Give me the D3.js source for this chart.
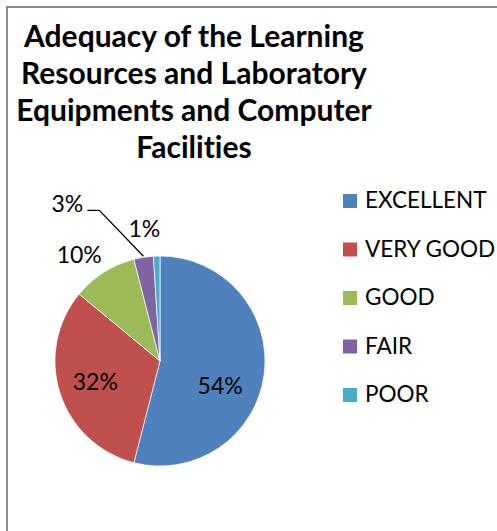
<!DOCTYPE html>
<html>
<head>
<meta charset="utf-8">
<script src="https://cdn.jsdelivr.net/npm/d3@7"></script>
<style>
  body { margin: 0; background: white; }
  text { font-family: Lato, "Open Sans", sans-serif; fill: black; font-variant-ligatures: none; }
</style>
</head>
<body>
<div id="chartDiv"></div>
<script>
var categories = ["EXCELLENT", "VERY GOOD", "GOOD", "FAIR", "POOR"];
var values = [54, 32, 10, 3, 1];
var labels = ["54%", "32%", "10%", "3%", "1%"];
var titleLines = ["Adequacy of the Learning", "Resources and Laboratory", "Equipments and Computer", "Facilities"];
var colors = ["#4f81bd", "#c0504d", "#9bbb59", "#8064a2", "#4bacc6"];

var chart = {}
chart.width = 497;
chart.height = 531;
chart.cx = 160;
chart.cy = 361;
chart.radius = 105;

var svg = d3.select("#chartDiv")
  .append("svg")
  .attr("width", chart.width)
  .attr("height", chart.height)

svg.append("rect")
  .attr("x", 7)
  .attr("y", 7)
  .attr("width", 700)
  .attr("height", 700)
  .attr("fill", "white")
  .attr("stroke", "#8c8c8c")
  .attr("stroke-width", 2)

svg.append("g")
  .selectAll("text")
  .data(titleLines)
  .enter()
  .append("text")
  .attr("x", 194)
  .attr("y", (d, i) => 47 + i * 37)
  .attr("text-anchor", "middle")
  .attr("font-size", 30)
  .attr("font-weight", "bold")
  .text(d => d)

var color = d3.scaleOrdinal().domain(categories).range(colors);

var pie = d3.pie().sort(null).value(d => d.value);
var arcs = pie(categories.map((c, i) => ({name: c, value: values[i], label: labels[i]})));
var arc = d3.arc().innerRadius(0).outerRadius(chart.radius);

var pieG = svg.append("g")
  .attr("transform", "translate(" + chart.cx + "," + chart.cy + ")")

pieG.selectAll("path")
  .data(arcs)
  .enter()
  .append("path")
  .attr("d", arc)
  .attr("fill", d => color(d.data.name))
  .attr("stroke", "white")
  .attr("stroke-width", 0.7)

function polar(angle, r){
  return [r * Math.sin(angle), -r * Math.cos(angle)];
}
function mid(d){ return (d.startAngle + d.endAngle) / 2; }

// label placement like excel: big slices inside, small ones outside
var deg = Math.PI / 180;
var labelPos = arcs.map((d, i) => {
  if(i === 0) return polar(mid(d) + 15 * deg, 65);
  if(i === 1) return polar(mid(d), 68);
  if(i === 3) return polar(-30.6 * deg, 182);
  return polar(mid(d) - 5 * deg, 133);
});

// leader line for the dragged 3% label
var fair = arcs[3];
var edge = polar(mid(fair), chart.radius + 1);
var lp = labelPos[3];
pieG.append("path")
  .attr("d", d3.line()([[lp[0] + 20, lp[1] + 6], [lp[0] + 32, lp[1] + 6], edge]))
  .attr("fill", "none")
  .attr("stroke", "black")
  .attr("stroke-width", 1.3)

pieG.selectAll(".lbl")
  .data(arcs)
  .enter()
  .append("text")
  .attr("class", "lbl")
  .attr("x", (d, i) => labelPos[i][0])
  .attr("y", (d, i) => labelPos[i][1] + 8)
  .attr("text-anchor", "middle")
  .attr("font-size", 23)
  .text(d => d.data.label)

var legend = svg.append("g")
  .selectAll("g")
  .data(categories)
  .enter()
  .append("g")
  .attr("transform", (d, i) => "translate(343," + (194 + i * 48.5) + ")")

legend.append("rect")
  .attr("width", 14)
  .attr("height", 14)
  .attr("fill", d => color(d))

legend.append("text")
  .attr("x", 22)
  .attr("y", 14)
  .attr("font-size", 22.5)
  .text(d => d)
</script>
</body>
</html>
